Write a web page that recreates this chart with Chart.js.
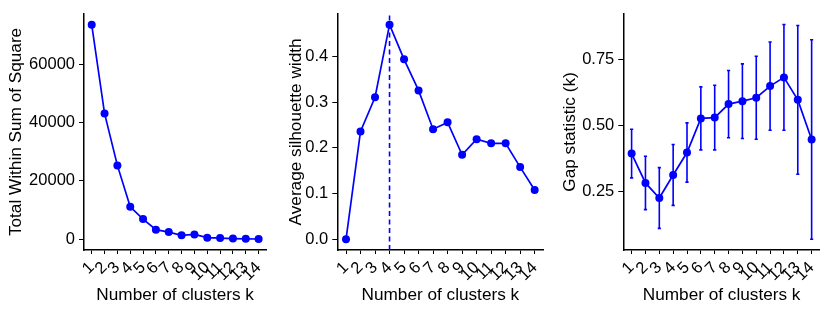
<!DOCTYPE html>
<html>
<head>
<meta charset="utf-8">
<script src="https://cdn.jsdelivr.net/npm/chart.js@4"></script>
<style>
  html, body { margin: 0; padding: 0; background: #fff; }
  #wrap { position: relative; width: 830px; height: 312px; overflow: hidden; }
  canvas { position: absolute; top: 0; }
</style>
</head>
<body>
<div id="wrap">
  <canvas id="elbow" width="277" height="312" style="left:0px"></canvas>
  <canvas id="silhouette" width="276" height="312" style="left:277px"></canvas>
  <canvas id="gap" width="277" height="312" style="left:553px"></canvas>
</div>
<script>
// Cluster counts (x axis for all three panels)
const clusters = [1, 2, 3, 4, 5, 6, 7, 8, 9, 10, 11, 12, 13, 14];
const clusterLabels = ['1', '2', '3', '4', '5', '6', '7', '8', '9', '10', '11', '12', '13', '14'];

// Elbow method
const wss = [73500, 43100, 25300, 11100, 6900, 3300, 2450, 1350, 1650, 550, 400, 250, 150, 100];
const wssTicks = [0, 20000, 40000, 60000];
const wssTickLabels = ['0', '20000', '40000', '60000'];

// Silhouette method
const silhouette = [0, 0.236, 0.311, 0.470, 0.394, 0.326, 0.241, 0.256, 0.185, 0.219, 0.210, 0.210, 0.158, 0.108];
const silTicks = [0, 0.1, 0.2, 0.3, 0.4];
const silTickLabels = ['0.0', '0.1', '0.2', '0.3', '0.4'];
const bestK = 4;

// Gap statistic with standard errors
const gap = [0.394, 0.283, 0.226, 0.313, 0.398, 0.527, 0.530, 0.581, 0.592, 0.605, 0.649, 0.682, 0.597, 0.447];
const gapSE = [0.092, 0.101, 0.115, 0.115, 0.112, 0.119, 0.122, 0.127, 0.141, 0.157, 0.167, 0.200, 0.281, 0.377];
const gapTicks = [0.25, 0.50, 0.75];
const gapTickLabels = ['0.25', '0.50', '0.75'];

const BLUE = '#0000ff';
const FONT = 'Liberation Sans, Arial, Helvetica, sans-serif';

// dashed vertical line at the chosen k
const vline = {
  id: 'vline',
  beforeDatasetsDraw(chart) {
    if (chart.canvas.id !== 'silhouette') return;
    const { ctx, chartArea, scales } = chart;
    const x = scales.x.getPixelForValue(bestK);
    ctx.save();
    ctx.strokeStyle = BLUE;
    ctx.lineWidth = 1.6;
    ctx.setLineDash([5, 3.5]);
    ctx.beginPath();
    ctx.moveTo(x, chartArea.bottom);
    ctx.lineTo(x, chartArea.top);
    ctx.stroke();
    ctx.restore();
  }
};

// error bars for the gap statistic
const errorBars = {
  id: 'errorBars',
  beforeDatasetsDraw(chart) {
    if (chart.canvas.id !== 'gap') return;
    const { ctx, scales } = chart;
    ctx.save();
    ctx.strokeStyle = BLUE;
    ctx.lineWidth = 1.6;
    clusters.forEach((k, i) => {
      const x = scales.x.getPixelForValue(k);
      const yTop = scales.y.getPixelForValue(gap[i] + gapSE[i]);
      const yBot = scales.y.getPixelForValue(gap[i] - gapSE[i]);
      ctx.beginPath();
      ctx.moveTo(x, yTop); ctx.lineTo(x, yBot);
      ctx.moveTo(x - 1.6, yTop); ctx.lineTo(x + 1.6, yTop);
      ctx.moveTo(x - 1.6, yBot); ctx.lineTo(x + 1.6, yBot);
      ctx.stroke();
    });
    ctx.restore();
  }
};

function makePanel(id, values, yTitle, yMin, yMax, tickVals, tickLabels, yWidth, titlePad, rightPad) {
  return new Chart(document.getElementById(id), {
    type: 'line',
    data: {
      datasets: [{
        data: clusters.map((k, i) => ({ x: k, y: values[i] })),
        borderColor: BLUE,
        backgroundColor: BLUE,
        borderWidth: 1.7,
        pointRadius: 4,
        pointBorderWidth: 0,
        tension: 0
      }]
    },
    options: {
      responsive: false,
      animation: false,
      layout: { padding: { top: 8.5, right: rightPad, left: 0, bottom: 0 } },
      plugins: { legend: { display: false }, tooltip: { enabled: false } },
      scales: {
        x: {
          type: 'linear',
          min: 0.4,
          max: 14.6,
          afterBuildTicks: s => { s.ticks = clusters.map(v => ({ value: v })); },
          afterFit: s => { s.height = 62; },
          grid: { drawOnChartArea: false, drawTicks: true, tickLength: 4, color: '#000', lineWidth: 1 },
          border: { display: true, color: '#000', width: 1.5 },
          ticks: {
            autoSkip: false,
            minRotation: 45,
            maxRotation: 45,
            padding: 4,
            color: '#000',
            font: { family: FONT, size: 16.5 },
            callback: (v, i) => clusterLabels[i]
          },
          title: {
            display: true,
            text: 'Number of clusters k',
            color: '#000',
            font: { family: FONT, size: 17.2 },
            padding: { top: 0, bottom: 6.6 }
          }
        },
        y: {
          type: 'linear',
          min: yMin,
          max: yMax,
          afterBuildTicks: s => { s.ticks = tickVals.map(v => ({ value: v })); },
          afterFit: s => { s.width = yWidth; },
          grid: { drawOnChartArea: false, drawTicks: true, tickLength: 5, color: '#000', lineWidth: 1 },
          border: { display: true, color: '#000', width: 1.5 },
          ticks: {
            padding: 4,
            color: '#000',
            font: { family: FONT, size: 16.5 },
            callback: (v, i) => tickLabels[i]
          },
          title: {
            display: true,
            text: yTitle,
            color: '#000',
            font: { family: FONT, size: 17.2 },
            padding: { top: titlePad, bottom: 0 }
          }
        }
      }
    },
    plugins: [vline, errorBars]
  });
}

makePanel('elbow', wss, 'Total Within Sum of Square', -3675, 77175, wssTicks, wssTickLabels, 84, 6.2, 9);
makePanel('silhouette', silhouette, 'Average silhouette width', -0.0235, 0.4935, silTicks, silTickLabels, 60.3, 9.2, 8);
makePanel('gap', gap, 'Gap statistic (k)', 0.0294, 0.922, gapTicks, gapTickLabels, 70.3, 6.7, 8.6);
</script>
</body>
</html>
